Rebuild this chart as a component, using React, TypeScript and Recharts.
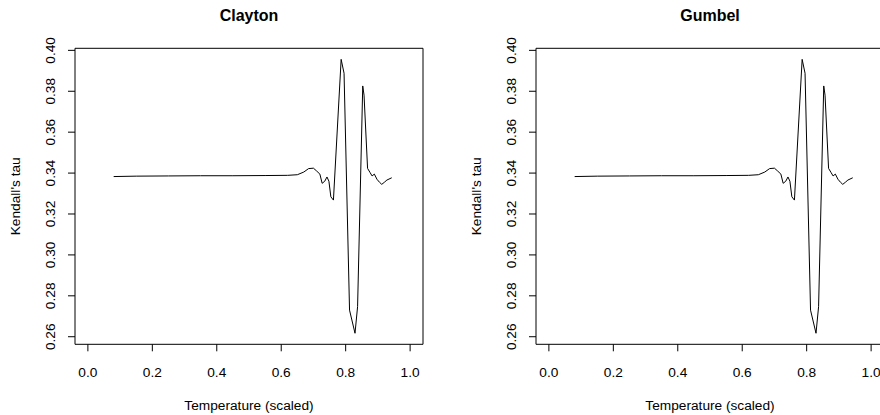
import { LineChart, Line, XAxis, YAxis, ReferenceArea } from 'recharts';

// scaled temperature grid (x) and Kendall's tau estimates per copula
const temperature = [
  0.08, 0.15, 0.25, 0.35, 0.45, 0.55, 0.62, 0.65, 0.67, 0.685, 0.70, 0.71, 0.72, 0.727,
  0.735, 0.742, 0.748, 0.754, 0.762, 0.786, 0.795, 0.812, 0.829, 0.837, 0.853, 0.857,
  0.868, 0.876, 0.882, 0.889, 0.897, 0.905, 0.912, 0.92, 0.928, 0.943,
];
const claytonTau = [
  0.3383, 0.3385, 0.3386, 0.3387, 0.3387, 0.3388, 0.3389, 0.3392, 0.3405, 0.3422, 0.3424,
  0.3410, 0.3395, 0.3350, 0.3360, 0.3381, 0.3360, 0.3284, 0.3268, 0.3956, 0.3888, 0.2730,
  0.2617, 0.2747, 0.3826, 0.3781, 0.3423, 0.3402, 0.3386, 0.3395, 0.3370, 0.3355, 0.3345,
  0.3355, 0.3366, 0.3377,
];
const gumbelTau = [
  0.3383, 0.3385, 0.3386, 0.3387, 0.3387, 0.3388, 0.3389, 0.3392, 0.3405, 0.3422, 0.3424,
  0.3410, 0.3395, 0.3350, 0.3360, 0.3381, 0.3360, 0.3284, 0.3268, 0.3956, 0.3888, 0.2730,
  0.2617, 0.2747, 0.3826, 0.3781, 0.3423, 0.3402, 0.3386, 0.3395, 0.3370, 0.3355, 0.3345,
  0.3355, 0.3366, 0.3377,
];
const xTicks = [0, 0.2, 0.4, 0.6, 0.8, 1.0];
const yTicks = [0.26, 0.28, 0.3, 0.32, 0.34, 0.36, 0.38, 0.4];

const X_DOMAIN: [number, number] = [-0.04, 1.04];
const Y_DOMAIN: [number, number] = [0.2563, 0.401];
const FONT = '"Liberation Sans", Arial, Helvetica, sans-serif';

const XTick = (props: any) => (
  <text x={props.x} y={props.y} textAnchor="middle" fontSize={13.7} fontFamily={FONT} fill="#000">
    {props.payload.value.toFixed(1)}
  </text>
);

const YTick = (props: any) => (
  <text
    x={props.x}
    y={props.y}
    transform={`rotate(-90, ${props.x}, ${props.y})`}
    textAnchor="middle"
    fontSize={13.7}
    fontFamily={FONT}
    fill="#000"
  >
    {props.payload.value.toFixed(2)}
  </text>
);

function Panel({ title, tau, left }: { title: string; tau: number[]; left: number }) {
  const data = temperature.map((t, i) => ({ temp: t, tau: tau[i] }));
  return (
    <div style={{ position: 'absolute', left, top: 0, width: 461, height: 415 }}>
      <div
        style={{
          position: 'absolute', left: 75, top: 8, width: 348, textAlign: 'center',
          fontFamily: FONT, fontWeight: 'bold', fontSize: 16, lineHeight: '16px',
        }}
      >
        {title}
      </div>
      <LineChart
        width={461}
        height={415}
        data={data}
        margin={{ top: 48.3, right: 38, bottom: 40.7, left: 15 }}
      >
        <XAxis
          dataKey="temp"
          type="number"
          domain={X_DOMAIN}
          ticks={xTicks}
          allowDataOverflow
          axisLine={false}
          tickLine={{ stroke: '#000' }}
          tickSize={7}
          tickMargin={25.2}
          height={30}
          tick={XTick}
          label={{
            value: 'Temperature (scaled)',
            content: ({ viewBox }: any) => (
              <text
                x={viewBox.x + viewBox.width / 2}
                y={viewBox.y + 65.2}
                textAnchor="middle"
                fontSize={13.7}
                fontFamily={FONT}
                fill="#000"
              >
                Temperature (scaled)
              </text>
            ),
          }}
        />
        <YAxis
          type="number"
          domain={Y_DOMAIN}
          ticks={yTicks}
          allowDataOverflow
          axisLine={false}
          tickLine={{ stroke: '#000' }}
          tickSize={7}
          tickMargin={13}
          width={60}
          tick={YTick}
          label={{
            value: "Kendall's tau",
            content: ({ viewBox }: any) => {
              const cx = viewBox.x + 5.5;
              const cy = viewBox.y + viewBox.height / 2;
              return (
                <text
                  x={cx}
                  y={cy}
                  transform={`rotate(-90, ${cx}, ${cy})`}
                  textAnchor="middle"
                  fontSize={13.7}
                  fontFamily={FONT}
                  fill="#000"
                >
                  Kendall's tau
                </text>
              );
            },
          }}
        />
        <ReferenceArea
          x1={X_DOMAIN[0]}
          x2={X_DOMAIN[1]}
          y1={Y_DOMAIN[0]}
          y2={Y_DOMAIN[1]}
          fill="none"
          stroke="#000"
          strokeWidth={1}
          ifOverflow="visible"
        />
        <Line
          type="linear"
          dataKey="tau"
          stroke="#000"
          strokeWidth={1}
          dot={false}
          isAnimationActive={false}
        />
      </LineChart>
    </div>
  );
}

export default function App() {
  return (
    <div
      style={{
        position: 'fixed', left: 0, top: 0, width: 880, height: 415,
        overflow: 'hidden', background: '#fff',
      }}
    >
      <Panel title="Clayton" tau={claytonTau} left={0} />
      <Panel title="Gumbel" tau={gumbelTau} left={461} />
    </div>
  );
}
